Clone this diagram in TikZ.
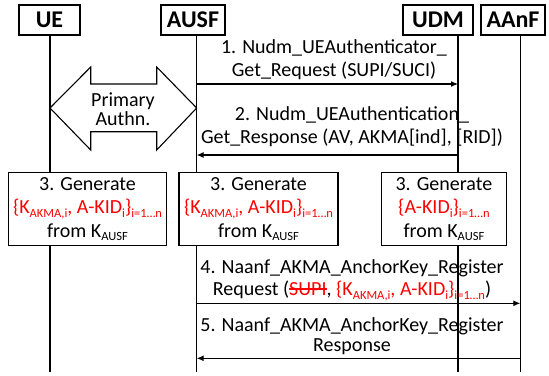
\documentclass[tikz,border=0pt]{standalone}
\usepackage{fontspec}
\setmainfont{Carlito}
\usetikzlibrary{arrows.meta}
\newcommand{\sbs}[1]{\raisebox{-0.4ex}{\fontsize{12.5}{12.5}\selectfont #1}}
\newcommand{\rd}[1]{\textcolor{red}{#1}}
\newsavebox{\strkbox}
\newcommand{\strk}[1]{\sbox{\strkbox}{#1}\rlap{\raisebox{0.3em}{\rule{\wd\strkbox}{0.07em}}}\usebox{\strkbox}}
\begin{document}
\begin{tikzpicture}[x=1pt,y=-1pt,
  hdr/.style={draw, line width=1.1pt, fill=white, font=\fontsize{24}{24}\selectfont\bfseries, inner sep=0pt, minimum height=30},
  life/.style={line width=1.1pt},
  msg/.style={line width=1.1pt, -{Latex[length=7pt,width=6pt]}},
  lbl/.style={align=center, inner sep=0pt, font=\fontsize{20}{23}\selectfont, anchor=base},
  genbox/.style={draw, line width=1.1pt, fill=white, inner sep=0pt, minimum height=73},
  gentext/.style={align=center, inner sep=0pt, font=\fontsize{20}{23.5}\selectfont, anchor=base}
]
\useasboundingbox (0,0) rectangle (549,375);

% headers
\node[hdr, minimum width=61] (ue) at (49.5,20) {UE};
\node[hdr, minimum width=64] (ausf) at (193,20) {AUSF};
\node[hdr, minimum width=70] (udm) at (438,20) {UDM};
\node[hdr, minimum width=64] (aanf) at (513,20) {AAnF};

% lifeline coordinates
\coordinate (ueT) at (50,35);   \coordinate (ueB) at (50,372);
\coordinate (ausfT) at (196.7,35); \coordinate (ausfB) at (196.7,372);
\coordinate (udmT) at (458,35); \coordinate (udmB) at (458,372);
\coordinate (aanfT) at (520.3,35); \coordinate (aanfB) at (520.3,372);
\draw[life] (ueT) -- (ueB);
\draw[life] (ausfT) -- (ausfB);
\draw[life] (udmT) -- (udmB);
\draw[life] (aanfT) -- (aanfB);

% primary authentication double arrow
\draw[line width=1.1pt, fill=white] (50,108) -- (90.7,67) -- (90.7,84) -- (156.7,84) -- (156.7,67) -- (196.7,108)
  -- (156.7,150) -- (156.7,131.7) -- (90.7,131.7) -- (90.7,150) -- cycle;
\node[align=center, inner sep=0pt, font=\fontsize{20}{19}\selectfont, anchor=base] (pa) at (123,125.7) {Primary\\Authn.};

% message 1
\coordinate (m1a) at (196.7,84); \coordinate (m1b) at (458,84);
\draw[msg] (m1a) -- (m1b);
\node[lbl] (t1) at (334,76.7) {1. Nudm\_UEAuthenticator\_\\Get\_Request (SUPI/SUCI)};

% message 2
\coordinate (m2a) at (458,155); \coordinate (m2b) at (196.7,155);
\draw[msg] (m2a) -- (m2b);
\node[lbl] (t2) at (352,143.3) {2. Nudm\_UEAuthentication\_\\Get\_Response (AV, AKMA[ind], [RID])};

% generate boxes
\node[genbox, minimum width=158.4] (g1) at (87.5,208.7) {};
\node[gentext] (g1t) at (87.5,237) {3. Generate\\\rd{\{K\sbs{AKMA,i}, A-KID\sbs{i}\}\sbs{i=1…n}}\\from K\sbs{AUSF}};
\node[genbox, minimum width=159] (g2) at (258.5,208.7) {};
\node[gentext] (g2t) at (258.5,237) {3. Generate\\\rd{\{K\sbs{AKMA,i}, A-KID\sbs{i}\}\sbs{i=1…n}}\\from K\sbs{AUSF}};
\node[genbox, minimum width=124.3] (g3) at (443.9,208.7) {};
\node[gentext] (g3t) at (443.9,237) {3. Generate\\\rd{\{A-KID\sbs{i}\}\sbs{i=1…n}}\\from K\sbs{AUSF}};

% message 4
\coordinate (m4a) at (196.7,303.3); \coordinate (m4b) at (520.3,303.3);
\draw[msg] (m4a) -- (m4b);
\node[lbl, font=\fontsize{20}{22.4}\selectfont] (t4) at (352,295.7) {4. Naanf\_AKMA\_AnchorKey\_Register\\Request (\rd{\strk{SUPI}}, \rd{\{K\sbs{AKMA,i}, A-KID\sbs{i}\}\sbs{i=1…n}})};

% message 5
\coordinate (m5a) at (520.3,358.3); \coordinate (m5b) at (196.7,358.3);
\draw[msg] (m5a) -- (m5b);
\node[lbl, font=\fontsize{20}{20}\selectfont] (t5) at (352,351.7) {5. Naanf\_AKMA\_AnchorKey\_Register\\Response};
\end{tikzpicture}
\end{document}
